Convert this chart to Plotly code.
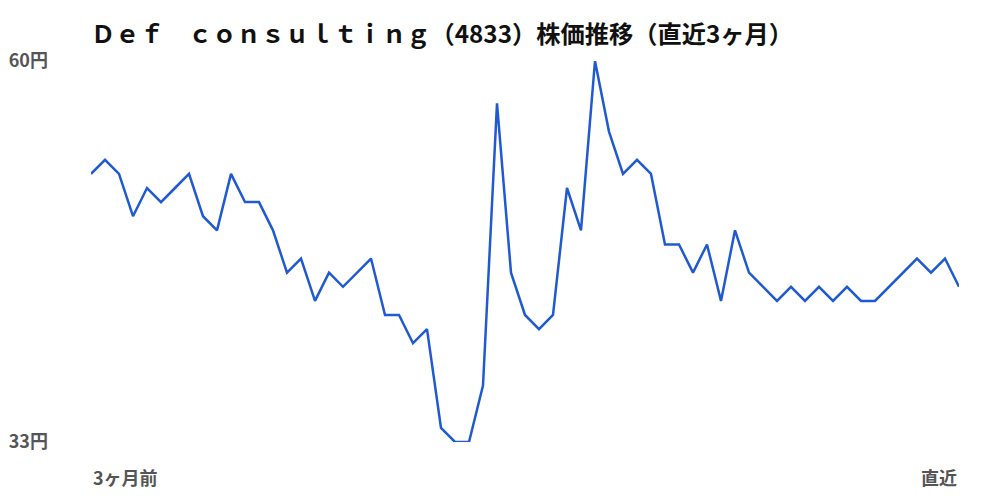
import plotly.graph_objects as go

# daily close (円), oldest -> latest
days = list(range(63))
prices = [
    52, 53, 52, 49, 51, 50, 51, 52, 49, 48,
    52, 50, 50, 48, 45, 46, 43, 45, 44, 45,
    46, 42, 42, 40, 41, 34, 33, 33, 37, 57,
    45, 42, 41, 42, 51, 48, 60, 55, 52, 53,
    52, 47, 47, 45, 47, 43, 48, 45, 44, 43,
    44, 43, 44, 43, 44, 43, 43, 44, 45, 46,
    45, 46, 44,
]
y_ticks = [33, 60]
y_tick_text = ["33円", "60円"]
x_labels = ["3ヶ月前", "直近"]

title = "Ｄｅｆ　ｃｏｎｓｕｌｔｉｎｇ（4833）株価推移（直近3ヶ月）"
font = "Noto Sans CJK JP"
grey = "#555555"

fig = go.Figure(go.Scatter(
    x=days, y=prices,
    mode="lines",
    line=dict(color="#1f5ad1", width=2.5),
    hoverinfo="skip",
))

# page body has an 8px margin, so margins are shifted to compensate
fig.update_layout(
    width=1000, height=500,
    margin=dict(l=83, r=49, t=53, b=66),
    paper_bgcolor="white", plot_bgcolor="white",
    showlegend=False,
    font=dict(family=font),
    title=dict(
        text="<b>" + title + "</b>",
        font=dict(family=font, size=24.25, color="#111111"),
        x=0, xref="paper", xanchor="left",
        y=0.946, yref="container", yanchor="middle",
    ),
)

fig.update_xaxes(
    range=[days[0], days[-1]],
    showgrid=False, zeroline=False, showline=False,
    showticklabels=False, ticks="", automargin=False,
)
fig.update_yaxes(
    range=[y_ticks[0], y_ticks[1]],
    tickvals=y_ticks, ticktext=["<b>%s</b>" % t for t in y_tick_text],
    tickfont=dict(family=font, size=18, color=grey),
    ticklabelstandoff=42, automargin=False,
    showgrid=False, zeroline=False, showline=False, ticks="",
)

# period labels under the first and last day
fig.add_annotation(x=days[0], y=0, xref="x", yref="paper",
                   text="<b>" + x_labels[0] + "</b>", showarrow=False,
                   xanchor="left", yanchor="top", yshift=-20,
                   font=dict(family=font, size=18, color=grey))
fig.add_annotation(x=days[-1], y=0, xref="x", yref="paper",
                   text="<b>" + x_labels[1] + "</b>", showarrow=False,
                   xanchor="right", yanchor="top", yshift=-20,
                   font=dict(family=font, size=18, color=grey))

fig.write_html("out.html")
